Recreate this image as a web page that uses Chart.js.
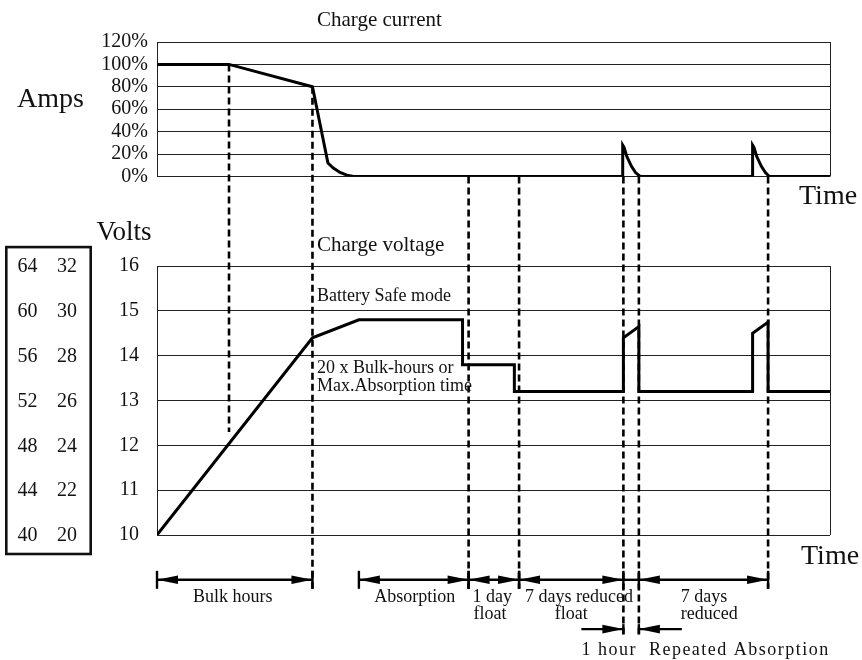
<!DOCTYPE html>
<html><head><meta charset="utf-8">
<script src="https://cdn.jsdelivr.net/npm/chart.js@4.4.1/dist/chart.umd.min.js"></script>
<style>html,body{margin:0;padding:0;background:#fff}#wrap{position:relative;width:862px;height:660px}</style>
</head><body><div id="wrap"><canvas id="c" width="862" height="660"></canvas></div>
<script>
// ---------- data (time in arbitrary units 0..100) ----------
const ampTime    = [0, 10.7, 23.1, 25.4, 26.2, 27.2, 28.2, 29.2, 69.2, 69.2, 69.4, 69.8, 70.5, 71.1, 71.8, 88.5, 88.5, 88.7, 89.1, 89.8, 90.4, 91.0, 100];
const ampPercent = [100, 100, 80, 12, 7.5, 3.6, 1.2, 0, 0, 28, 26, 18, 9, 3.5, 0, 0, 28, 26, 18, 9, 3.5, 0, 0];
const voltTime   = [0, 23.1, 30.0, 45.4, 45.4, 53.1, 53.1, 69.3, 69.3, 71.6, 71.6, 88.5, 88.5, 90.8, 90.8, 100];
const volts12    = [10, 14.4, 14.8, 14.8, 13.8, 13.8, 13.2, 13.2, 14.4, 14.65, 13.2, 13.2, 14.5, 14.75, 13.2, 13.2];

const ampTickLabels  = ['0%', '20%', '40%', '60%', '80%', '100%', '120%'];
const voltTickLabels = ['10', '11', '12', '13', '14', '15', '16'];
const volt48Labels   = ['40', '44', '48', '52', '56', '60', '64'];
const volt24Labels   = ['20', '22', '24', '26', '28', '30', '32'];

// phase boundary markers (dashed verticals)
const markerTime      = [10.7, 23.1, 46.3, 53.8, 69.3, 71.6, 90.8];
const markerFromAmps  = [100, 80, 0, 0, 0, 0, 0];
const markerToRow     = [0, 1, 1, 1, 2, 2, 1]; // 0 = voltage curve, 1 = first arrow row, 2 = second row

// dimension spans on the time axis
const spanLabels = [['Bulk hours'], ['Absorption'], ['1 day', 'float'], ['7 days reduced', 'float'], ['7 days', 'reduced']];
const spanStart  = [0, 30.0, 46.3, 53.8, 71.6];
const spanEnd    = [23.1, 46.3, 53.8, 69.3, 90.8];
const hourStart = 69.3, hourEnd = 71.6;
const hourLabel = '1 hour  Repeated Absorption';

// ---------- drawing ----------
const SERIF = '"Liberation Serif", "Times New Roman", serif';
const INK = '#111';

function arrowHead(ctx, tipX, y, dir) { // dir: -1 points left, +1 points right
  const L = 21, H = 4.3;
  ctx.beginPath();
  ctx.moveTo(tipX, y);
  ctx.lineTo(tipX - dir * L, y - H);
  ctx.lineTo(tipX - dir * L, y + H);
  ctx.closePath();
  ctx.fill();
}
function seg(ctx, x1, y1, x2, y2) { ctx.beginPath(); ctx.moveTo(x1, y1); ctx.lineTo(x2, y2); ctx.stroke(); }

const overlay = {
  id: 'overlay',
  afterDraw(chart) {
    const { ctx, chartArea, scales } = chart;
    const x = scales.x, yA = scales.yA, yV = scales.yV;
    const X = t => x.getPixelForValue(t);
    const VY = v => yV.getPixelForValue(v);
    const row1 = VY(9.0), row2 = VY(7.9);
    ctx.save();

    // right borders of both panels
    ctx.strokeStyle = '#222'; ctx.lineWidth = 1;
    const rx = Math.round(chartArea.right) + 0.5;
    seg(ctx, rx, yA.top, rx, yA.bottom);
    seg(ctx, rx, yV.top, rx, yV.bottom);

    // dashed markers
    ctx.strokeStyle = '#000'; ctx.lineWidth = 2.6; ctx.setLineDash([7, 4]);
    markerTime.forEach((t, i) => {
      const px = X(t);
      const y0 = yA.getPixelForValue(markerFromAmps[i]);
      let y1;
      if (markerToRow[i] === 0) y1 = VY(12.3);
      else if (markerToRow[i] === 1) y1 = row1 + 9;
      else y1 = row2 + 7;
      seg(ctx, px, y0, px, y1);
    });
    ctx.setLineDash([]);

    // dimension spans (row 1)
    ctx.fillStyle = '#000'; ctx.lineWidth = 2.4;
    spanStart.forEach((s, i) => {
      const a = X(s), b = X(spanEnd[i]);
      seg(ctx, a, row1, b, row1);
      seg(ctx, a, row1 - 9, a, row1 + 9);
      seg(ctx, b, row1 - 9, b, row1 + 9);
      arrowHead(ctx, a, row1, -1);
      arrowHead(ctx, b, row1, 1);
    });
    seg(ctx, X(69.3), row1, X(71.6), row1);

    // 1 hour span (row 2, arrows pointing inward)
    const h1 = X(hourStart), h2 = X(hourEnd);
    seg(ctx, h1 - 42, row2, h1, row2);
    seg(ctx, h2, row2, h2 + 43, row2);
    seg(ctx, h1, row2 - 5, h1, row2 + 5);
    seg(ctx, h2, row2 - 5, h2, row2 + 5);
    arrowHead(ctx, h1, row2, 1);
    arrowHead(ctx, h2, row2, -1);

    // span labels
    ctx.fillStyle = INK; ctx.font = '18px ' + SERIF; ctx.textBaseline = 'alphabetic';
    const txt = (s, px, py, align) => { ctx.textAlign = align; ctx.fillText(s, px, py); };
    const l1 = row1 + 22, l2 = row1 + 39;
    const c = i => (X(spanStart[i]) + X(spanEnd[i])) / 2;
    txt(spanLabels[0][0], c(0) - 2, l1, 'center');
    txt(spanLabels[1][0], c(1) + 1, l1, 'center');
    txt(spanLabels[2][0], X(spanStart[2]) + 4, l1, 'left');
    txt(spanLabels[2][1], X(spanStart[2]) + 5, l2, 'left');
    txt(spanLabels[3][0], X(spanStart[3]) + 6, l1, 'left');
    txt(spanLabels[3][1], c(3), l2, 'center');
    txt(spanLabels[4][0], X(spanStart[4]) + 42, l1, 'left');
    txt(spanLabels[4][1], X(spanStart[4]) + 42, l2, 'left');
    if ('letterSpacing' in ctx) ctx.letterSpacing = '1.5px';
    txt(hourLabel, h1 - 42, row2 + 26, 'left');
    if ('letterSpacing' in ctx) ctx.letterSpacing = '0px';

    // panel annotations
    const tx = X(23.1) + 4.5;
    ctx.font = '21px ' + SERIF;
    txt('Charge current', tx, yA.top - 16, 'left');
    txt('Charge voltage', tx, yV.top - 15, 'left');
    ctx.font = '18px ' + SERIF;
    txt('Battery Safe mode', tx, VY(15) - 10, 'left');
    txt('20 x Bulk-hours or', tx, VY(14) + 17, 'left');
    txt('Max.Absorption time', tx, VY(14) + 35.5, 'left');

    ctx.font = '28px ' + SERIF;
    txt('Amps', 17, yA.getPixelForValue(60) - 2.7, 'left');
    txt('Time', 799, yA.bottom + 27.6, 'left');
    txt('Time', 801, yV.bottom + 29, 'left');
    ctx.font = '27px ' + SERIF;
    txt('Volts', 96.5, yV.top - 26, 'left');

    // 48 V / 24 V equivalent box
    ctx.strokeStyle = '#111'; ctx.lineWidth = 2.6;
    const bt = VY(16) - 19, bb = VY(10) + 19;
    ctx.strokeRect(6.3, bt, 84.4, bb - bt);
    ctx.font = '20px ' + SERIF; ctx.textBaseline = 'middle';
    volt48Labels.forEach((lab, i) => {
      const py = VY(10 + i) + 1;
      txt(lab, 27.5, py, 'center');
      txt(volt24Labels[i], 67, py, 'center');
    });
    ctx.restore();
  }
};

const tickFont = { family: SERIF, size: 20 };
new Chart(document.getElementById('c'), {
  type: 'line',
  data: {
    datasets: [
      { label: 'Charge current', yAxisID: 'yA', data: ampTime.map((t, i) => ({ x: t, y: ampPercent[i] })) },
      { label: 'Charge voltage', yAxisID: 'yV', data: voltTime.map((t, i) => ({ x: t, y: volts12[i] })) }
    ]
  },
  options: {
    responsive: false, animation: false, devicePixelRatio: 1,
    layout: { padding: { top: 42, bottom: 125, left: 0, right: 32 } },
    elements: {
      line: { borderColor: '#000', borderWidth: 3, tension: 0, fill: false, borderJoinStyle: 'miter', borderCapStyle: 'butt' },
      point: { radius: 0, hoverRadius: 0 }
    },
    plugins: { legend: { display: false }, tooltip: { enabled: false }, title: { display: false } },
    scales: {
      x: { type: 'linear', min: 0, max: 100, display: false },
      yA: {
        type: 'linear', position: 'left', stack: 'panels', stackWeight: 1.5, weight: 3,
        min: 0, max: 120,
        ticks: { stepSize: 20, autoSkip: false, font: tickFont, color: INK, padding: 9, callback: (v, i) => ampTickLabels[i] },
        grid: { color: '#222', lineWidth: 1, drawTicks: false },
        border: { display: true, color: '#222', width: 1 },
        afterFit: s => { s.width = 157; }
      },
      gap: {
        type: 'linear', position: 'left', stack: 'panels', stackWeight: 1, weight: 2,
        ticks: { display: false }, grid: { display: false }, border: { display: false }
      },
      yV: {
        type: 'linear', position: 'left', stack: 'panels', stackWeight: 3, weight: 1,
        min: 10, max: 16,
        ticks: { stepSize: 1, autoSkip: false, font: tickFont, color: INK, padding: 18, callback: (v, i) => voltTickLabels[i] },
        grid: { color: '#222', lineWidth: 1, drawTicks: false },
        border: { display: true, color: '#222', width: 1 },
        afterFit: s => { s.width = 157; }
      }
    }
  },
  plugins: [overlay]
});
</script></body></html>
